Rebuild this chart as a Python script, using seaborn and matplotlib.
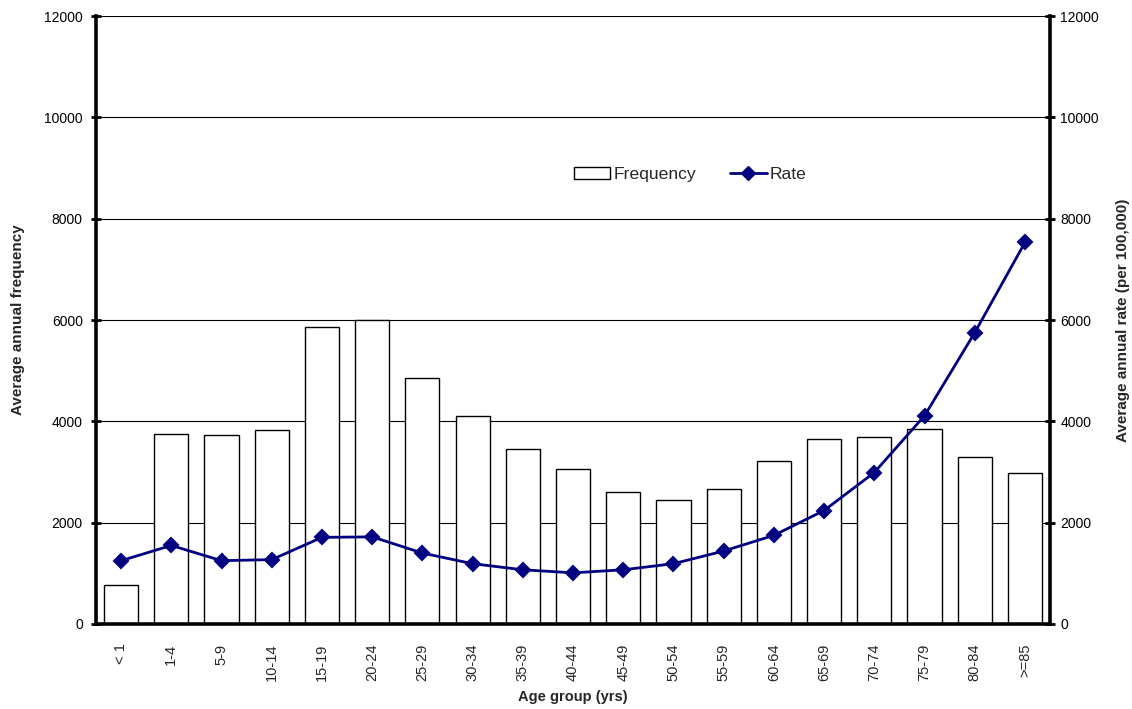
import matplotlib
matplotlib.use("Agg")
import matplotlib.pyplot as plt
from matplotlib.patches import Patch
from matplotlib.lines import Line2D
import seaborn as sns
import pandas as pd

# Age groups and the two series
age_groups = ["< 1", "1-4", "5-9", "10-14", "15-19", "20-24", "25-29", "30-34",
              "35-39", "40-44", "45-49", "50-54", "55-59", "60-64", "65-69",
              "70-74", "75-79", "80-84", ">=85"]
frequency = [760, 3750, 3730, 3830, 5860, 6000, 4860, 4100, 3460, 3060,
             2600, 2440, 2660, 3210, 3650, 3690, 3850, 3290, 2990]
rate = [1250, 1550, 1250, 1270, 1710, 1720, 1400, 1190, 1070, 1010,
        1070, 1190, 1440, 1750, 2240, 2990, 4110, 5750, 7530]
y_ticks = [0, 2000, 4000, 6000, 8000, 10000, 12000]

df = pd.DataFrame({"age": age_groups, "frequency": frequency, "rate": rate})

sns.set_style("white")
plt.rcParams["font.family"] = ["Liberation Sans", "DejaVu Sans"]

NAVY = "#000080"

fig = plt.figure(figsize=(11.32, 7.09), dpi=100)
ax = fig.add_axes([0.0848, 0.1199, 0.8428, 0.8575])

sns.barplot(data=df, x="age", y="frequency", ax=ax, color="white",
            edgecolor="black", linewidth=1.0, width=0.68, saturation=1)

ax2 = ax.twinx()
sns.pointplot(data=df, x="age", y="rate", ax=ax2, color=NAVY, markers="D",
              linestyles="-", markersize=7, linewidth=2.0, errorbar=None)

for a in (ax, ax2):
    a.set_ylim(0, 12000)
    a.set_yticks(y_ticks)
    a.set_xlim(-0.5, len(age_groups) - 0.5)

ax.set_axisbelow(True)
ax.yaxis.grid(True, color="black", linewidth=0.8)
ax.xaxis.grid(False)
ax2.grid(False)

ax.tick_params(axis="y", direction="inout", length=7, width=2, labelsize=10,
               pad=6, colors="black")
ax2.tick_params(axis="y", direction="inout", length=7, width=2, labelsize=10,
                pad=4, colors="black")
ax.tick_params(axis="x", length=0, labelsize=10.5, labelrotation=90, pad=14)
ax2.tick_params(axis="x", length=0)

for s in ("top", "right"):
    ax.spines[s].set_visible(False)
for s in ("top", "left", "bottom"):
    ax2.spines[s].set_visible(False)
ax.spines["left"].set_linewidth(2.6)
ax.spines["bottom"].set_linewidth(2.6)
ax2.spines["right"].set_linewidth(2.6)
for sp in (ax.spines["left"], ax.spines["bottom"], ax2.spines["right"]):
    sp.set_color("black")

ax.set_xlabel("Age group (yrs)", fontsize=10.5, fontweight="bold")
ax.xaxis.set_label_coords(0.5, -0.108)
ax.set_ylabel("Average annual frequency", fontsize=11, fontweight="bold",
              labelpad=14)
ax2.set_ylabel("Average annual rate (per 100,000)", fontsize=11,
               fontweight="bold", labelpad=12)
ax2.set_xlabel("")

handles = [
    Patch(facecolor="white", edgecolor="black", linewidth=1.0),
    Line2D([], [], color=NAVY, linewidth=2.0, marker="D", markersize=7),
]
ax2.legend(handles, ["Frequency", "Rate"], loc="center",
           bbox_to_anchor=(0.623, 0.739), ncol=2, frameon=False, fontsize=12.6,
           handlelength=2.1, handleheight=0.6, columnspacing=1.9,
           handletextpad=0.2)

fig.savefig("out.png", dpi=100)
